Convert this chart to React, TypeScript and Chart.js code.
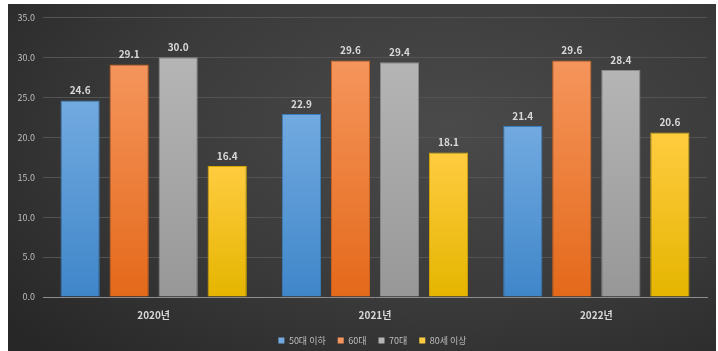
import React, { useEffect, useRef } from "react";
import { Chart, registerables } from "chart.js";

Chart.register(...registerables);

const categories = ["2020년", "2021년", "2022년"];
const seriesNames = ["50대 이하", "60대", "70대", "80세 이상"];
const s50 = [24.6, 22.9, 21.4];
const s60 = [29.1, 29.6, 29.6];
const s70 = [30.0, 29.4, 28.4];
const s80 = [16.4, 18.1, 20.6];
const yTicks = [0, 5, 10, 15, 20, 25, 30, 35];

const topColors = ["#72aae0", "#f5955c", "#b5b5b5", "#ffcc40"];
const bottomColors = ["#3f86c9", "#e4691a", "#979797", "#e5b500"];
const borderColors = ["#3a7dbd", "#d4621a", "#8a8a8a", "#d6a900"];

const FONT = "'Noto Sans CJK KR', 'Noto Sans', sans-serif";

function gradFor(i: number) {
  return (ctx: any) => {
    const chart = ctx.chart;
    const y = chart.scales && chart.scales.y;
    if (!chart.chartArea || !y || ctx.type !== "data") return topColors[i];
    const v = ctx.raw as number;
    const top = y.getPixelForValue(v);
    const base = y.getPixelForValue(0);
    if (!isFinite(top) || !isFinite(base) || top === base) return topColors[i];
    const g = chart.ctx.createLinearGradient(0, top, 0, base);
    g.addColorStop(0, topColors[i]);
    g.addColorStop(1, bottomColors[i]);
    return g;
  };
}

const labelPlugin = {
  id: "valueLabels",
  afterLayout(chart: any) {
    const lg = chart.legend;
    if (lg) {
      lg.left += 15;
      lg.right += 15;
    }
  },
  afterDatasetsDraw(chart: any) {
    const c = chart.ctx;
    c.save();
    c.font = `bold 10px ${FONT}`;
    c.fillStyle = "#d9d9d9";
    c.textAlign = "center";
    c.textBaseline = "bottom";
    chart.data.datasets.forEach((ds: any, di: number) => {
      const meta = chart.getDatasetMeta(di);
      meta.data.forEach((bar: any, idx: number) => {
        c.fillText((ds.data[idx] as number).toFixed(1), bar.x, bar.y - 5);
      });
    });
    c.restore();
  },
};

export default function App() {
  const ref = useRef<HTMLCanvasElement>(null);
  useEffect(() => {
    if (!ref.current) return;
    const all = [s50, s60, s70, s80];
    const chart = new Chart(ref.current, {
      type: "bar",
      data: {
        labels: categories,
        datasets: all.map((d, i) => ({
          label: seriesNames[i],
          data: d,
          backgroundColor: gradFor(i),
          borderColor: borderColors[i],
          borderWidth: 1,
          categoryPercentage: 0.886,
          barPercentage: 0.8,
        })),
      },
      options: {
        animation: false,
        responsive: true,
        maintainAspectRatio: false,
        layout: { padding: { top: 9, right: 9, left: 0, bottom: 0 } },
        plugins: {
          tooltip: { enabled: false },
          legend: {
            position: "bottom",
            labels: {
              boxWidth: 6,
              boxHeight: 6,
              padding: 12,
              color: "#bfbfbf",
              font: { size: 9, family: FONT },
              generateLabels: (ch: any) =>
                ch.data.datasets.map((ds: any, i: number) => ({
                  text: ds.label,
                  fillStyle: topColors[i],
                  strokeStyle: topColors[i],
                  lineWidth: 0,
                  fontColor: "#bfbfbf",
                  datasetIndex: i,
                  hidden: false,
                })),
            },
          },
        },
        scales: {
          x: {
            grid: { display: false },
            border: { display: true, color: "#8c8c8c", width: 1 },
            ticks: {
              color: "#d9d9d9",
              font: { size: 10, weight: "bold", family: FONT },
              padding: 4,
            },
            afterFit: (s: any) => {
              s.height = 27;
            },
          },
          y: {
            min: 0,
            max: 35,
            afterBuildTicks: (s: any) => {
              s.ticks = yTicks.map((v) => ({ value: v }));
            },
            grid: { color: "#535353", lineWidth: 1, drawTicks: false },
            border: { display: false },
            ticks: {
              color: "#bfbfbf",
              font: { size: 9, family: FONT },
              padding: 8,
              callback: (v: any) => Number(v).toFixed(1),
            },
            afterFit: (s: any) => {
              s.width = 35;
            },
          },
        },
      },
      plugins: [labelPlugin],
    });
    return () => chart.destroy();
  }, []);

  return (
    <div
      style={{
        position: "fixed",
        left: 8,
        top: 4,
        width: 708,
        height: 351,
        background:
          "radial-gradient(ellipse 80% 90% at 62% 35%, #4a4a4a 0%, #3a3a3a 55%, #272727 100%)",
      }}
    >
      <canvas ref={ref} />
    </div>
  );
}
